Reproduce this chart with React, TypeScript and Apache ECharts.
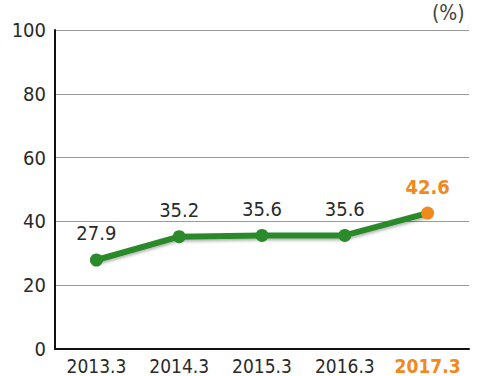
import React, { useEffect, useRef } from "react";
import * as echarts from "echarts";

const categories = ["2013.3", "2014.3", "2015.3", "2016.3", "2017.3"];
const values = [27.9, 35.2, 35.6, 35.6, 42.6];
const yTicks = [0, 20, 40, 60, 80, 100];

const FONT = "'Liberation Sans Narrow', 'DejaVu Sans Condensed', 'Roboto Condensed', sans-serif";
const GREEN = "#2b8a2b";
const ORANGE = "#f0891e";
const TEXT = "#2a2a2a";

export default function App() {
  const ref = useRef<HTMLDivElement>(null);
  useEffect(() => {
    if (!ref.current) return;
    const chart = echarts.init(ref.current, null, { renderer: "svg" });
    const last = values.length - 1;
    chart.setOption({
      animation: false,
      backgroundColor: "#fff",
      grid: { left: 55, top: 30, width: 414, height: 319, containLabel: false },
      graphic: [
        {
          type: "text",
          left: 432,
          top: 2,
          style: { text: "(%)", font: `21px ${FONT}`, fill: "#444" },
        },
      ],
      xAxis: {
        type: "category",
        data: categories,
        boundaryGap: true,
        axisLine: { lineStyle: { color: "#111", width: 2 } },
        axisTick: { show: false },
        axisLabel: {
          interval: 0,
          margin: 7,
          fontFamily: FONT,
          fontSize: 19,
          color: TEXT,
          formatter: (v: string) => (v === categories[last] ? `{hl|${v}}` : v),
          rich: { hl: { color: ORANGE, fontWeight: "bold", fontFamily: FONT, fontSize: 19 } },
        },
      },
      yAxis: {
        type: "value",
        min: yTicks[0],
        max: yTicks[yTicks.length - 1],
        interval: yTicks[1] - yTicks[0],
        axisLine: { show: true, lineStyle: { color: "#111", width: 2 } },
        axisTick: { show: false },
        axisLabel: { margin: 9, fontFamily: FONT, fontSize: 20, color: TEXT },
        splitLine: { lineStyle: { color: "#999", width: 1 } },
      },
      series: [
        {
          type: "line",
          data: values.map((v, i) =>
            i === last
              ? {
                  value: v,
                  itemStyle: { color: ORANGE },
                  label: { color: ORANGE, fontWeight: "bold" },
                }
              : v
          ),
          symbol: "circle",
          symbolSize: 13,
          lineStyle: {
            color: GREEN,
            width: 6,
            shadowColor: "rgba(0,0,0,0.3)",
            shadowBlur: 3,
            shadowOffsetY: 2,
          },
          itemStyle: { color: GREEN },
          label: {
            show: true,
            position: "top",
            distance: 10,
            fontFamily: FONT,
            fontSize: 20,
            color: TEXT,
          },
        },
      ],
    });
    return () => chart.dispose();
  }, []);
  return <div ref={ref} style={{ width: 480, height: 376, position: "absolute", left: 0, top: 0 }} />;
}
